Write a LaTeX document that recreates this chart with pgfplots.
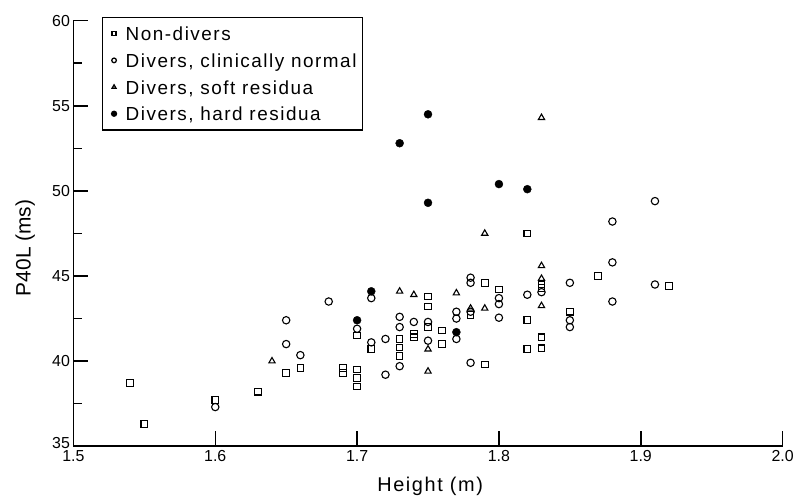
\documentclass[border=0pt]{standalone}
\usepackage{fontspec}
\setmainfont{Liberation Sans}
\newfontfamily\legfont[LetterSpace=8]{Liberation Sans}
\usepackage{pgfplots}
\pgfplotsset{compat=1.18}

% Non-divers
\pgfplotstableread{
h p
1.54 38.7
1.55 36.3
1.60 37.7
1.63 38.2
1.65 39.3
1.66 39.6
1.69 39.6
1.69 39.3
1.70 41.5
1.70 39.5
1.70 39.0
1.70 38.5
1.71 40.7
1.73 41.3
1.73 40.8
1.73 40.3
1.74 41.6
1.74 41.4
1.75 43.8
1.75 43.2
1.75 42.0
1.76 41.8
1.76 41.0
1.78 42.7
1.79 44.6
1.79 39.8
1.80 44.2
1.82 47.5
1.82 42.4
1.82 40.7
1.83 44.5
1.83 44.3
1.83 41.4
1.83 40.75
1.85 42.9
1.87 45.0
1.92 44.4
}\nondivers

% Divers, clinically normal
\pgfplotstableread{
h p
1.60 37.3
1.65 42.4
1.65 41.0
1.66 40.35
1.68 43.5
1.70 41.9
1.71 43.7
1.71 41.1
1.72 41.3
1.72 39.2
1.73 42.6
1.73 42.0
1.73 39.7
1.74 42.3
1.75 42.3
1.75 41.2
1.77 42.9
1.77 42.5
1.77 41.3
1.78 44.9
1.78 44.6
1.78 42.9
1.78 39.9
1.80 43.7
1.80 43.35
1.80 42.55
1.82 43.9
1.83 44.05
1.85 44.6
1.85 42.4
1.85 42.0
1.88 48.2
1.88 45.8
1.88 43.5
1.91 49.4
1.91 44.5
}\normal

% Divers, soft residua
\pgfplotstableread{
h p
1.64 40.0
1.73 44.1
1.74 43.9
1.75 40.7
1.75 39.4
1.77 44.0
1.78 43.1
1.79 47.5
1.79 43.1
1.83 54.3
1.83 45.6
1.83 44.85
1.83 43.25
}\soft

% Divers, hard residua
\pgfplotstableread{
h p
1.70 42.4
1.71 44.1
1.73 52.8
1.75 54.5
1.75 49.3
1.77 41.7
1.80 50.4
1.82 50.1
}\hard

\begin{document}
\begin{tikzpicture}
\path (-73.5bp,-52.3bp) (723.5bp,446.7bp);
\begin{axis}[
    scale only axis,
    width=710bp, height=426bp,
    xmin=1.5, xmax=2.0,
    ymin=35, ymax=60,
    axis x line*=bottom,
    axis y line*=left,
    axis line style={line width=1.5bp},
    xtick={1.5,1.6,1.7,1.8,1.9,2.0},
    ytick={40,45,50,55,60},
    extra y ticks={35},
    extra y tick style={yticklabel style={yshift=3bp}},
    minor ytick={37.5,42.5,47.5,52.5,57.5},
    tick align=inside,
    major tick length=15bp,
    minor tick length=9bp,
    major tick style={black, line width=1.5bp},
    minor tick style={black, line width=1.5bp},
    xticklabel style={/pgf/number format/fixed, /pgf/number format/fixed zerofill, /pgf/number format/precision=1, yshift=-1bp},
    /pgf/number format/assume math mode=true,
    tick label style={font=\fontsize{16}{16}\selectfont},
    xlabel={Height (m)},
    ylabel={P40L (ms)},
    xlabel style={font=\legfont\fontsize{20}{20}\selectfont, at={(axis description cs:0.503,-0.095)}, anchor=center},
    ylabel style={font=\fontsize{21}{21}\selectfont, at={(axis description cs:-0.068,0.466)}, anchor=center},
    legend style={
        at={(axis description cs:0.04,1.009)}, anchor=north west,
        draw=black, line width=1.3bp,
        inner xsep=4bp, inner ysep=4bp,
        font=\legfont\fontsize{19}{19}\selectfont,
        row sep=2.2bp,
        nodes={inner sep=2bp, text height=17.5bp, text depth=3bp},
    },
    legend cell align=left,
    legend image code/.code={%
        \path (0bp,0bp) (16bp,0bp);
        \draw[#1, mark options={scale=0.62}] plot coordinates {(7bp,0bp)};
    },
]
\addplot[only marks, mark=square, mark size=3.3bp, mark options={line width=1.1bp, black}] table[x=h, y=p] {\nondivers};
\addlegendentry{Non-divers}
\addplot[only marks, mark=o, mark size=3.7bp, mark options={line width=1.1bp, black}] table[x=h, y=p] {\normal};
\addlegendentry{Divers, clinically normal}
\addplot[only marks, mark=triangle, mark size=3.6bp, mark options={line width=1.1bp, black}] table[x=h, y=p] {\soft};
\addlegendentry{Divers, soft residua}
\addplot[only marks, mark=*, mark size=4bp, mark options={black, fill=black}] table[x=h, y=p] {\hard};
\addlegendentry{Divers, hard residua}
\end{axis}
\end{tikzpicture}
\end{document}
